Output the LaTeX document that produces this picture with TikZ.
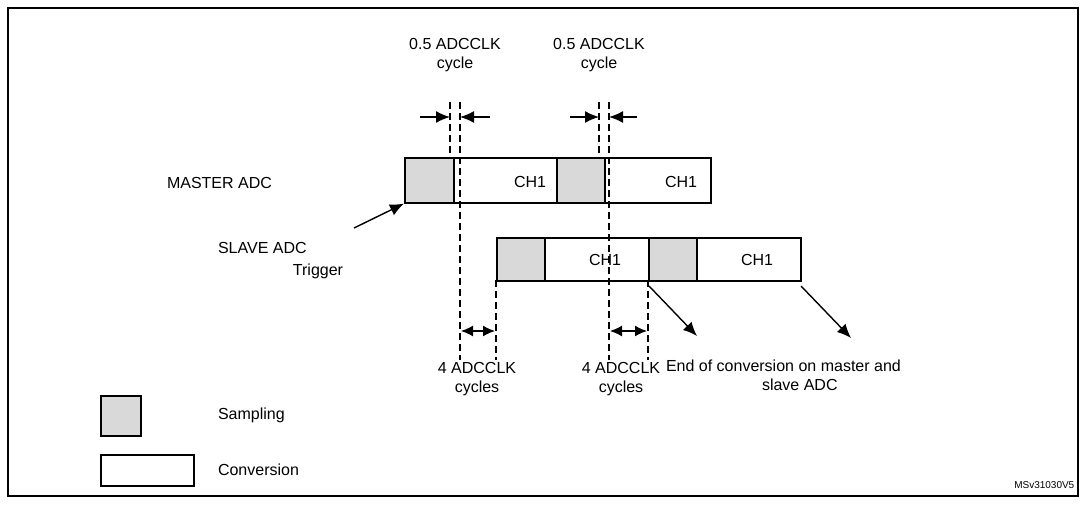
\documentclass[tikz,border=0pt]{standalone}
\usepackage{fontspec}
\setmainfont{Liberation Sans}
\usetikzlibrary{arrows.meta}
\begin{document}
\begin{tikzpicture}[x=1pt,y=-1pt,line width=1.4pt,
  samp/.style={draw,line width=1.6pt,fill=gray!30,minimum height=45pt,inner sep=0},
  conv/.style={draw,line width=1.6pt,fill=white,minimum height=45pt,inner sep=0},
  dl/.style={line width=1.2pt,dash pattern=on 7pt off 4pt},
  arr/.style={-{Latex[length=14pt,width=12pt]},line width=1.4pt},
  lbl/.style={font=\fontsize{16}{19}\selectfont,align=center}]
\useasboundingbox (0,0) rectangle (1087,504);
\draw[line width=1.2pt] (8,8) rectangle (1078,496);
% master
\node[samp,minimum width=49pt,anchor=north west] (m1) at (404,157) {};
\node[conv,minimum width=103pt,anchor=north west] (m2) at (453,157) {};
\node[samp,minimum width=48pt,anchor=north west] (m3) at (556,157) {};
\node[conv,minimum width=106pt,anchor=north west] (m4) at (604,157) {};
\node[lbl] at (530,182) {CH1};
\node[lbl] at (681,182) {CH1};
% slave
\node[samp,minimum height=43pt,minimum width=48pt,anchor=north west] (s1) at (496,237) {};
\node[conv,minimum height=43pt,minimum width=104pt,anchor=north west] (s2) at (544,237) {};
\node[samp,minimum height=43pt,minimum width=48pt,anchor=north west] (s3) at (648,237) {};
\node[conv,minimum height=43pt,minimum width=104pt,anchor=north west] (s4) at (696,237) {};
\node[lbl] at (605,260) {CH1};
\node[lbl] at (757,260) {CH1};
\node[lbl,anchor=west] (ml) at (163,183) {MASTER ADC};
\node[lbl,anchor=west] (sl) at (214,248) {SLAVE ADC};
\node[lbl] (tr) at (318,271) {Trigger};
\coordinate (ta) at (354,228);
\draw[arr] (ta) -- (m1.south west);
% dashed
\draw[dl] (450,102) -- (450,157);
\draw[dl] (460,102) -- (460,360);
\draw[dl] (599,102) -- (599,157);
\draw[dl] (609,102) -- (609,360);
\draw[dl] (496,280) -- (496,360);
\draw[dl] (648,280) -- (648,360);
% half-cycle arrows
\draw[arr] (420,117) -- (450,117);
\draw[arr] (490,117) -- (460,117);
\draw[arr] (570,117) -- (599,117);
\draw[arr] (637,117) -- (609,117);
\node[lbl] at (455,55) {0.5 ADCCLK\\cycle};
\node[lbl] at (599,55) {0.5 ADCCLK\\cycle};
% 4 cycle arrows
\draw[{Latex[length=12pt,width=11pt]}-{Latex[length=12pt,width=11pt]}] (461,331) -- (495,331);
\draw[{Latex[length=12pt,width=11pt]}-{Latex[length=12pt,width=11pt]}] (610,331) -- (647,331);
\node[lbl] at (477,379) {4 ADCCLK\\cycles};
\node[lbl] at (621,379) {4 ADCCLK\\cycles};
% end arrows
\draw[arr] (649,286) -- (697,336);
\draw[arr] (801,286) -- (851,338);
\node[lbl,align=left,anchor=north west] at (662,356) {End of conversion on master and\\\hspace*{6em}slave ADC};
% legend
\node[samp,minimum width=40pt,minimum height=40pt,anchor=north west] (ls) at (100,395) {};
\node[conv,minimum width=93pt,minimum height=31pt,anchor=north west] (lc) at (100,454) {};
\node[lbl,anchor=west] at (214,415) {Sampling};
\node[lbl,anchor=west] at (214,470) {Conversion};
\node[font=\fontsize{10}{12}\selectfont,anchor=east,inner sep=0] at (1075,485) {MSv31030V5};
\end{tikzpicture}
\end{document}
